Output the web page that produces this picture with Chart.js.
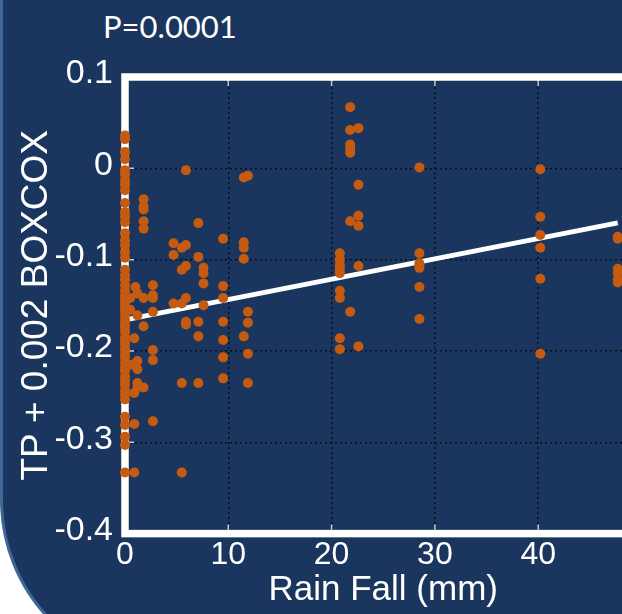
<!DOCTYPE html>
<html><head><meta charset="utf-8">
<script src="https://cdn.jsdelivr.net/npm/chart.js@4/dist/chart.umd.min.js"></script>
<style>
html,body{margin:0;padding:0;width:622px;height:614px;overflow:hidden;background:#fff;}
#bg{position:absolute;left:0;top:-60px;width:900px;height:733px;box-sizing:border-box;background:#1a365e;border:3px solid #3f6896;border-bottom-left-radius:173px;}
#ptext{position:absolute;left:103px;top:11px;font-family:Lato,"Open Sans",sans-serif;font-size:31px;line-height:31px;color:#fff;white-space:nowrap;}
canvas{position:absolute;left:0;top:0;}
</style></head>
<body>
<div id="bg"></div>
<div id="ptext">P=0.0001</div>
<canvas id="c" width="680" height="614"></canvas>
<script>
// Rain fall (mm) groups and the TP + 0.002 BOXCOX values observed at each
const rainFall = [0, 0.5, 0.7, 0.9, 1.0, 1.2, 1.8, 2.7, 4.7, 5.5, 5.9, 7.1, 7.6, 9.5, 11.5, 11.9, 20.8, 21.8, 22.6, 28.5, 40.2, 47.7];
const tpByRain = [
  [0.036, 0.032, 0.018, 0.010, -0.002, -0.007, -0.013, -0.018, -0.024, -0.038, -0.048, -0.053, -0.059, -0.071, -0.079, -0.084, -0.092, -0.098, -0.111, -0.117, -0.122, -0.128, -0.134, -0.139, -0.143, -0.147, -0.152, -0.156, -0.161, -0.166, -0.171, -0.174, -0.179, -0.185, -0.190, -0.193, -0.198, -0.203, -0.207, -0.213, -0.218, -0.222, -0.228, -0.232, -0.237, -0.243, -0.248, -0.253, -0.272, -0.281, -0.294, -0.303, -0.333],
  [-0.142, -0.155],
  [-0.215],
  [-0.186, -0.246, -0.280, -0.333],
  [-0.130],
  [-0.137, -0.161, -0.211, -0.220, -0.235, -0.240],
  [-0.034, -0.042, -0.045, -0.058, -0.066, -0.142, -0.173, -0.240],
  [-0.128, -0.139, -0.142, -0.157, -0.199, -0.210, -0.277],
  [-0.082, -0.095, -0.148],
  [-0.087, -0.111, -0.148, -0.235, -0.333],
  [-0.002, -0.084, -0.107, -0.142, -0.168, -0.171],
  [-0.060, -0.097, -0.168, -0.184, -0.235],
  [-0.109, -0.115, -0.126, -0.150],
  [-0.077, -0.129, -0.142, -0.168, -0.188, -0.207, -0.230],
  [-0.010, -0.081, -0.087, -0.099, -0.184],
  [-0.008, -0.157, -0.169, -0.203, -0.235],
  [-0.093, -0.100, -0.106, -0.110, -0.115, -0.134, -0.142, -0.186, -0.198],
  [0.067, 0.042, 0.026, 0.022, 0.017, -0.058, -0.157],
  [0.044, -0.018, -0.052, -0.063, -0.107, -0.195],
  [0.001, -0.093, -0.104, -0.107, -0.109, -0.130, -0.165],
  [-0.001, -0.053, -0.073, -0.087, -0.121, -0.203],
  [-0.075, -0.077, -0.110, -0.115, -0.122, -0.125]
];
// regression line end points
const fitX = [0, 47.7];
const fitY = [-0.166, -0.0597];
// axis ticks
const xTickValues = [0, 10, 20, 30, 40, 50];
const yTickValues = [0.1, 0, -0.1, -0.2, -0.3, -0.4];

const points = [];
rainFall.forEach((r, i) => tpByRain[i].forEach(v => points.push({x: r, y: v})));
const fitLine = fitX.map((x, i) => ({x: x, y: fitY[i]}));

const labelFont = '"Liberation Sans", Arial, sans-serif';

const framePlugin = {
  id: 'frame',
  beforeDatasetsDraw(chart) {
    const {ctx, chartArea: a, scales} = chart;
    const xs = scales.x, ys = scales.y;
    ctx.save();
    ctx.strokeStyle = '#c3cad4';
    ctx.lineWidth = 1.5;
    xs.ticks.forEach(t => {
      const px = xs.getPixelForValue(t.value);
      ctx.beginPath();
      ctx.moveTo(px, a.top); ctx.lineTo(px, a.top + 9);
      ctx.moveTo(px, a.bottom); ctx.lineTo(px, a.bottom - 9);
      ctx.stroke();
    });
    ys.ticks.forEach(t => {
      const py = ys.getPixelForValue(t.value);
      ctx.beginPath();
      ctx.moveTo(a.left, py); ctx.lineTo(a.left + 9, py);
      ctx.moveTo(a.right, py); ctx.lineTo(a.right - 9, py);
      ctx.stroke();
    });
    ctx.strokeStyle = '#ffffff';
    ctx.lineWidth = 7.5;
    ctx.lineJoin = 'miter';
    ctx.strokeRect(a.left, a.top, a.right - a.left, a.bottom - a.top);
    ctx.restore();
  }
};

new Chart(document.getElementById('c'), {
  type: 'scatter',
  data: {
    datasets: [
      {
        type: 'scatter',
        data: points,
        backgroundColor: '#c55a11',
        borderWidth: 0,
        pointRadius: 5,
        pointHoverRadius: 5,
        clip: false,
        order: 0
      },
      {
        type: 'line',
        data: fitLine,
        borderColor: '#ffffff',
        borderWidth: 5,
        pointRadius: 0,
        fill: false,
        clip: false,
        order: 1
      }
    ]
  },
  options: {
    responsive: false,
    animation: false,
    devicePixelRatio: 1,
    layout: {padding: {top: 77, right: 38.5, left: 0, bottom: 0}},
    plugins: {legend: {display: false}, tooltip: {enabled: false}},
    scales: {
      x: {
        type: 'linear', min: 0, max: 50,
        afterBuildTicks: s => { s.ticks = xTickValues.map(v => ({value: v})); },
        afterFit: s => { s.height = 80.4; },
        grid: {color: '#0a0e16', lineWidth: 1.5, drawTicks: false},
        border: {display: false, dash: [2, 3]},
        ticks: {color: '#ffffff', font: {family: labelFont, size: 32}, padding: 2, maxRotation: 0, autoSkip: false, callback: v => String(v)},
        title: {display: true, text: 'Rain Fall (mm)', color: '#ffffff', font: {family: labelFont, size: 35}, padding: {top: 0, bottom: 3}}
      },
      y: {
        type: 'linear', min: -0.4, max: 0.1,
        afterBuildTicks: s => { s.ticks = yTickValues.map(v => ({value: v})); },
        afterFit: s => { s.width = 125; },
        grid: {color: '#0a0e16', lineWidth: 1.5, drawTicks: false},
        border: {display: false, dash: [2, 3]},
        ticks: {color: '#ffffff', font: {family: labelFont, size: 34}, padding: 12, labelOffset: -3, autoSkip: false, callback: v => String(v)},
        title: {display: true, text: 'TP + 0.002 BOXCOX', color: '#ffffff', font: {family: labelFont, size: 37}, padding: {top: 15, bottom: 0}}
      }
    }
  },
  plugins: [framePlugin]
});
</script>
</body></html>
